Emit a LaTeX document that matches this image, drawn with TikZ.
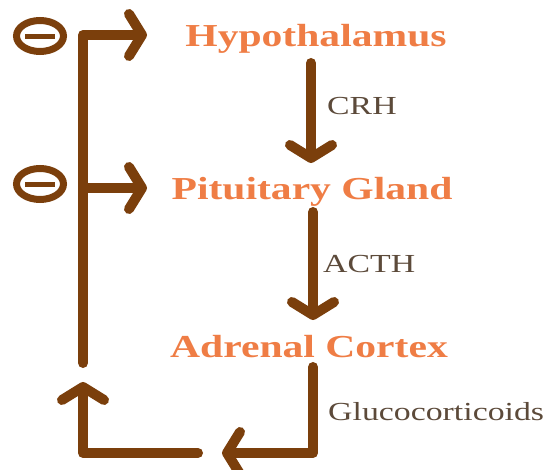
\documentclass[tikz,border=0pt]{standalone}
\usepackage{fontspec}
\setmainfont{Liberation Serif}[FakeStretch=1.3]
\usepackage{tikz}
\usetikzlibrary{arrows.meta,shapes.geometric}
\definecolor{hpaBrown}{HTML}{7B3F0C}
\definecolor{hpaOrange}{HTML}{EF7D45}
\definecolor{hpaText}{HTML}{5C4A3A}

\begin{document}
\begin{tikzpicture}[
  x=1pt, y=-1pt,
  organ/.style  ={font=\fontsize{32}{36}\selectfont\bfseries, text=hpaOrange, anchor=base, inner sep=0pt},
  hormone/.style={font=\fontsize{26}{30}\selectfont, text=hpaText, anchor=base west, inner sep=0pt},
  flow/.style   ={draw=hpaBrown, line width=10pt, line cap=round, line join=round,
                  -{Straight Barb[length=13pt, width=42pt, line cap=round, line join=round]}},
  minusRing/.style={ellipse, draw=hpaBrown, line width=7pt, inner sep=0pt,
                  minimum width=47pt, minimum height=31pt},
]
\useasboundingbox (0,0) rectangle (549,470);
% organs of the axis
\node[organ] (hyp) at (316,47)  {Hypothalamus};
\node[organ] (pit) at (312,200) {Pituitary Gland};
\node[organ] (adr) at (309,357) {Adrenal Cortex};
% hormones
\node[hormone] (crh)   at (327,115) {CRH};
\node[hormone] (acth)  at (323,273) {ACTH};
\node[hormone] (gluco) at (328,420) {Glucocorticoids};
% points of the connectors
\coordinate (crhTop)   at (311,63);
\coordinate (crhTip)   at (311,163);
\coordinate (acthTop)  at (313,212);
\coordinate (acthTip)  at (313,320);
\coordinate (glucoTop) at (313,367);
\coordinate (glucoBot) at (313,453);
\coordinate (glucoTip) at (222,453);
\coordinate (backStart) at (198,453);
\coordinate (backCorner) at (83,453);
\coordinate (backTip)  at (83,382);
\coordinate (loopBot)  at (83,363);
\coordinate (loopTop)  at (83,35);
\coordinate (hypTip)   at (147,35);
\coordinate (loopMid)  at (83,188);
\coordinate (pitTip)   at (147,188);
% downward chain
\draw[flow] (crhTop) -- (crhTip);
\draw[flow] (acthTop) -- (acthTip);
\draw[flow] (glucoTop) -- (glucoBot) -- (glucoTip);
% negative feedback loop
\draw[flow] (backStart) -- (backCorner) -- (backTip);
\draw[flow] (loopBot) -- (loopTop) -- (hypTip);
\draw[flow] (loopMid) -- (pitTip);
% inhibition signs
\node[minusRing] (inhHyp) at (40,36) {};
\node[minusRing] (inhPit) at (40,184) {};
\foreach \m in {inhHyp,inhPit}
  \draw[draw=hpaBrown, line width=5pt] ([xshift=-15pt,yshift=-1pt]\m.center) -- ([xshift=15pt,yshift=-1pt]\m.center);
\end{tikzpicture}
\end{document}
